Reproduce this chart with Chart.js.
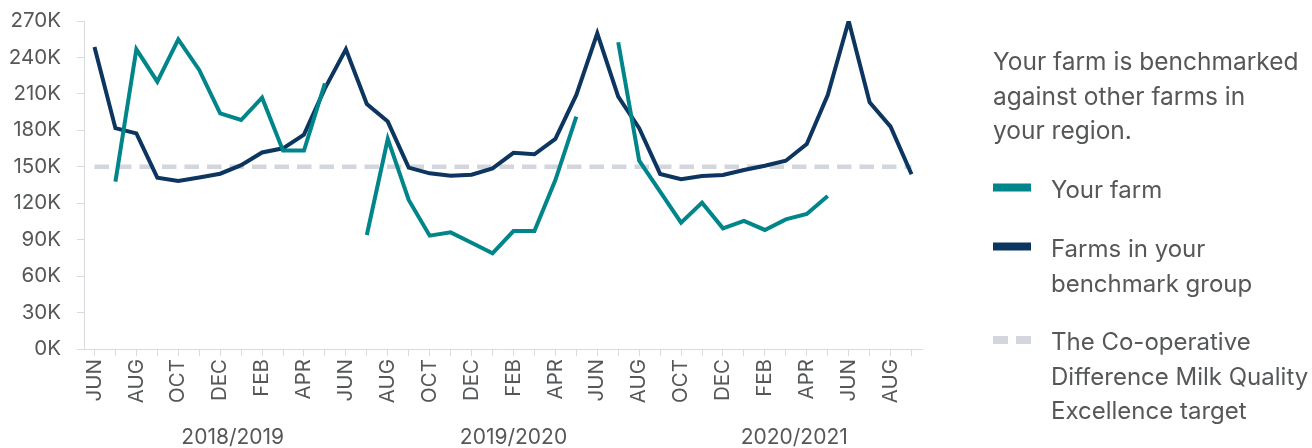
<!DOCTYPE html>
<html><head><meta charset="utf-8">
<script src="https://cdn.jsdelivr.net/npm/chart.js@4.4.1/dist/chart.umd.min.js"></script>
<style>html,body{margin:0;padding:0;background:#fff;overflow:hidden}#wrap{position:relative;width:1312px;height:448px}canvas{display:block}</style>
</head><body><div id="wrap"><canvas id="c" width="1312" height="448" style="width:1312px;height:448px"></canvas></div>
<script>
// ---- data ----
const categories = [
  'JUN','JUL','AUG','SEP','OCT','NOV','DEC','JAN','FEB','MAR','APR','MAY',
  'JUN','JUL','AUG','SEP','OCT','NOV','DEC','JAN','FEB','MAR','APR','MAY',
  'JUN','JUL','AUG','SEP','OCT','NOV','DEC','JAN','FEB','MAR','APR','MAY',
  'JUN','JUL','AUG','SEP'
];
const yourFarm = [
  null, 137800, 246700, 220100, 254900, 229700, 194000, 188500, 206900, 163300, 163300, 218700,
  null, 93800, 172900, 122700, 93300, 96000, 87500, 78800, 97100, 97100, 139100, 191300,
  null, 252500, 155000, 129500, 104000, 120500, 99300, 105400, 98000, 106700, 111100, 126000,
  null, null, null, null
];
const benchmarkGroup = [
  248500, 181800, 177500, 141000, 138300, 141200, 144300, 151300, 161800, 165200, 176500, 214500,
  246700, 201700, 187200, 149300, 144600, 142700, 143500, 148700, 161500, 160300, 172900, 209100,
  259900, 207700, 181700, 144100, 139700, 142400, 143200, 147400, 150900, 155000, 168800, 209100,
  270000, 203100, 183000, 143800
];
const excellenceTarget = [
  150000,150000,150000,150000,150000,150000,150000,150000,150000,150000,150000,150000,
  150000,150000,150000,150000,150000,150000,150000,150000,150000,150000,150000,150000,
  150000,150000,150000,150000,150000,150000,150000,150000,150000,150000,150000,150000,
  150000,150000,150000,150000
];
const seasons = ['2018/2019', '2019/2020', '2020/2021'];
const seasonAnchor = [6.6, 20, 33.4];
const yTicks = [0, 30000, 60000, 90000, 120000, 150000, 180000, 210000, 240000, 270000];
const introText = ['Your farm is benchmarked', 'against other farms in', 'your region.'];
const legendText = [
  ['Your farm'],
  ['Farms in your', 'benchmark group'],
  ['The Co-operative', 'Difference Milk Quality', 'Excellence target']
];

// ---- style ----
const FONT = 'Inter, Lato, sans-serif';
const TEXT = '#555759';
const AXIS = '#d9dbe1';
const TEAL = '#00858a';
const NAVY = '#0c3560';
const DASH = '#d4d6dd';

const sidePlugin = {
  id: 'side',
  afterDraw(chart) {
    const ctx = chart.ctx;
    ctx.save();
    ctx.fillStyle = TEXT;
    ctx.textAlign = 'left';
    ctx.textBaseline = 'alphabetic';
    ctx.font = '24.5px ' + FONT;
    const x0 = 993;
    introText.forEach((t, i) => ctx.fillText(t, x0, 70 + i * 34.5));
    ctx.font = '24px ' + FONT;
    const firstBase = [198, 257, 350];
    [0, 1, 2].forEach((di, k) => {
      const ds = chart.data.datasets[di];
      const lines = legendText[k];
      const b = firstBase[k];
      ctx.fillStyle = ds.borderColor;
      if (ds.borderDash && ds.borderDash.length) {
        ctx.fillRect(x0, b - 14, 15, 8);
        ctx.fillRect(x0 + 23, b - 14, 15, 8);
      } else {
        ctx.fillRect(x0, b - 14.5, 38, 8);
      }
      ctx.fillStyle = TEXT;
      lines.forEach((t, i) => ctx.fillText(t, 1051, b + i * 34.7));
    });
    const xs = chart.scales.x;
    ctx.textAlign = 'center';
    ctx.font = '21px ' + FONT;
    seasons.forEach((s, i) => ctx.fillText(s, xs.getPixelForValue(seasonAnchor[i]), 444));
    ctx.restore();
  }
};

new Chart(document.getElementById('c'), {
  type: 'line',
  data: {
    labels: categories,
    datasets: [
      { label: 'Your farm', data: yourFarm, borderColor: TEAL, backgroundColor: TEAL, borderWidth: 4, pointRadius: 0, tension: 0, spanGaps: false, order: 1 },
      { label: 'Farms in your benchmark group', data: benchmarkGroup, borderColor: NAVY, backgroundColor: NAVY, borderWidth: 4, pointRadius: 0, tension: 0, order: 2 },
      { label: 'The Co-operative Difference Milk Quality Excellence target', data: excellenceTarget, borderColor: DASH, backgroundColor: DASH, borderWidth: 4.5, borderDash: [14.5, 8], pointRadius: 0, tension: 0, order: 3 }
    ]
  },
  options: {
    responsive: false,
    maintainAspectRatio: false,
    animation: false,
    devicePixelRatio: 1,
    layout: { padding: { top: 21, right: 390, bottom: 0, left: 0 } },
    plugins: { legend: { display: false }, tooltip: { enabled: false } },
    scales: {
      x: {
        offset: true,
        grid: { display: true, drawOnChartArea: false, drawTicks: true, tickLength: 7, color: AXIS, offset: false },
        border: { display: true, color: AXIS, width: 1 },
        ticks: {
          autoSkip: false, maxRotation: 90, minRotation: 90, padding: 3,
          color: TEXT, font: { family: FONT, size: 20.5 },
          callback: function (v, i) { return i % 2 === 0 ? categories[i] : ''; }
        },
        afterFit: (s) => { s.height = 99; }
      },
      y: {
        min: 0, max: 270000,
        afterBuildTicks: (s) => { s.ticks = yTicks.map(v => ({ value: v })); },
        grid: { display: true, drawOnChartArea: false, drawTicks: true, tickLength: 7, color: AXIS },
        border: { display: true, color: AXIS, width: 1 },
        ticks: {
          padding: 16, color: TEXT, font: { family: FONT, size: 20.5, lineHeight: 0.4 },
          callback: (v) => (v / 1000) + 'K'
        },
        afterFit: (s) => { s.width = 84; }
      }
    }
  },
  plugins: [sidePlugin]
});
</script>
</body></html>
